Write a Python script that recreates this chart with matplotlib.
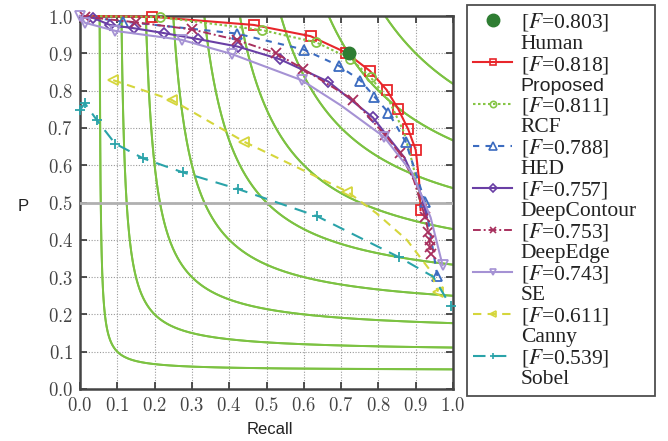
import numpy as np
import matplotlib
matplotlib.use("Agg")
import matplotlib.pyplot as plt
from matplotlib.lines import Line2D

plt.rcParams['mathtext.fontset'] = 'cm'

# ---------------- data ----------------
human_R = [0.722]
human_P = [0.902]

prop_R = [0.0, 0.192, 0.466, 0.618, 0.713, 0.777, 0.822, 0.853, 0.880, 0.900, 0.909, 0.913]
prop_P = [1.0, 0.998, 0.976, 0.946, 0.902, 0.853, 0.802, 0.751, 0.696, 0.641, 0.56, 0.48]
prop_mk = [1, 2, 3, 4, 5, 6, 7, 8, 9, 11]

rcf_R = [0.0, 0.215, 0.489, 0.634, 0.724, 0.779, 0.83, 0.868, 0.893, 0.912]
rcf_P = [1.0, 0.997, 0.962, 0.929, 0.886, 0.836, 0.77, 0.69, 0.60, 0.50]
rcf_mk = [1, 2, 3, 4, 5]

hed_R = [0.0, 0.116, 0.42, 0.60, 0.695, 0.752, 0.789, 0.827, 0.873, 0.925, 0.958]
hed_P = [1.0, 0.985, 0.953, 0.91, 0.866, 0.827, 0.784, 0.741, 0.663, 0.502, 0.303]
hed_mk = [1, 2, 3, 4, 5, 6, 7, 8, 9, 10]

dc_R = [0.0, 0.035, 0.08, 0.146, 0.226, 0.317, 0.423, 0.536, 0.666, 0.785, 0.87, 0.915, 0.93]
dc_P = [1.0, 0.995, 0.976, 0.967, 0.954, 0.938, 0.918, 0.884, 0.824, 0.728, 0.62, 0.52, 0.46]
dc_mk = [1, 2, 3, 4, 5, 6, 7, 8, 9]

de_R = [0.0, 0.013, 0.15, 0.30, 0.42, 0.525, 0.597, 0.733, 0.818, 0.858, 0.895, 0.925, 0.934, 0.937, 0.938, 0.94]
de_P = [1.0, 0.998, 0.983, 0.964, 0.936, 0.90, 0.859, 0.775, 0.681, 0.632, 0.56, 0.462, 0.422, 0.40, 0.38, 0.362]
de_mk = [1, 2, 3, 4, 5, 6, 7, 8, 9, 11, 12, 13, 14, 15]

se_R = [0.0, 0.013, 0.095, 0.273, 0.407, 0.594, 0.70, 0.815, 0.89, 0.94, 0.972]
se_P = [1.0, 0.982, 0.96, 0.936, 0.898, 0.828, 0.76, 0.676, 0.58, 0.46, 0.332]
se_mk = [0, 1, 2, 3, 4, 5, 7, 10]

canny_R = [0.089, 0.246, 0.44, 0.717, 0.795, 0.876, 0.938, 0.96]
canny_P = [0.828, 0.775, 0.663, 0.529, 0.471, 0.40, 0.319, 0.261]
canny_mk = [0, 1, 2, 3, 7]

sobel_R = [0.0, 0.013, 0.045, 0.094, 0.17, 0.275, 0.424, 0.636, 0.856, 0.947, 0.994]
sobel_P = [0.748, 0.766, 0.721, 0.658, 0.618, 0.581, 0.536, 0.463, 0.353, 0.301, 0.222]
sobel_mk = [0, 1, 2, 3, 4, 5, 6, 7, 8, 10]

iso_F = [0.1, 0.2, 0.3, 0.4, 0.5, 0.6, 0.7, 0.8, 0.9]

f_labels = ['[$F$=0.803]', '[$F$=0.818]', '[$F$=0.811]', '[$F$=0.788]', '[$F$=0.757]',
            '[$F$=0.753]', '[$F$=0.743]', '[$F$=0.611]', '[$F$=0.539]']
names = ['Human', 'Proposed', 'RCF', 'HED', 'DeepContour', 'DeepEdge', 'SE', 'Canny', 'Sobel']

ticks = [0.0, 0.1, 0.2, 0.3, 0.4, 0.5, 0.6, 0.7, 0.8, 0.9, 1.0]
tick_labels = ['$%.1f$' % t for t in ticks]

# ---------------- figure ----------------
W, H = 668, 441
fig = plt.figure(figsize=(W / 100, H / 100), dpi=100)
ax = fig.add_axes([80 / W, 1 - 389 / H, 373 / W, 373 / H])

# iso-F curves
iso_col = '#7cc242'
for F in iso_F:
    r0 = F / (2 - F)
    R = np.linspace(r0, 1.0, 400)
    P = F * R / (2 * R - F)
    ax.plot(R, P, color=iso_col, lw=1.4, zorder=2)
    ax.plot(P, R, color=iso_col, lw=1.4, zorder=2)

ax.axhline(0.5, color='#b0b0b0', lw=2.0, zorder=3)

ms = 6.5
series = [
    (prop_R, prop_P, prop_mk, dict(color='#e8262b', ls='-', marker='s', lw=1.5)),
    (rcf_R, rcf_P, rcf_mk, dict(color='#86c545', ls=(0, (1.2, 1.2)), marker='o', lw=1.5)),
    (hed_R, hed_P, hed_mk, dict(color='#3c6cc0', ls=(0, (3, 3)), marker='^', lw=1.5, ms_scale=1.15)),
    (dc_R, dc_P, dc_mk, dict(color='#6a3fa5', ls='-', marker='D', lw=1.5, ms_scale=0.85)),
    (de_R, de_P, de_mk, dict(color='#a8305e', ls=(0, (4, 1.5, 1, 1.5)), marker='x', lw=1.4)),
    (se_R, se_P, se_mk, dict(color='#a592d4', ls='-', marker='v', lw=1.5, ms_scale=1.1)),
    (canny_R, canny_P, canny_mk, dict(color='#d5d63c', ls=(0, (4, 3)), marker='<', lw=1.5, ms_scale=1.1)),
    (sobel_R, sobel_P, sobel_mk, dict(color='#2aa3a9', ls=(0, (6, 4)), marker='+', lw=1.5, ms_scale=1.1)),
]

handles = []
ax.plot(human_R, human_P, 'o', color='#2e7d32', ms=9, zorder=6, clip_on=False)
handles.append(Line2D([], [], marker='o', color='#2e7d32', ls='none', ms=9))

for R, P, mk, st in series:
    scale = st.pop('ms_scale', 1.0)
    ax.plot(R, P, color=st['color'], ls=st['ls'], lw=st['lw'], marker=st['marker'],
            markevery=mk, ms=ms * scale, mfc='none', mec=st['color'], mew=1.3,
            zorder=5, clip_on=False)
    handles.append(Line2D([], [], color=st['color'], ls=st['ls'], lw=st['lw'],
                          marker=st['marker'], ms=ms * 0.7 * scale, mfc='none',
                          mec=st['color'], mew=1.2))

ax.set_xlim(0, 1)
ax.set_ylim(0, 1)
ax.set_xticks(ticks)
ax.set_yticks(ticks)
ax.set_xticklabels(tick_labels, fontsize=13.5)
ax.set_yticklabels(tick_labels, fontsize=13.5)
ax.tick_params(direction='in', length=5, width=1.2, top=True, right=True,
               colors='#333333', labelcolor='#444444', pad=5)
ax.grid(True, ls=(0, (1, 1.5)), color='#9a9a9a', lw=0.8, zorder=1)
for s in ax.spines.values():
    s.set_color('#444444')
    s.set_linewidth(1.8)

ax.set_xlabel('Recall', fontsize=12, family='Liberation Sans', color='#222222')
ax.xaxis.set_label_coords(0.509, -0.088)
ax.set_ylabel('P', fontsize=12, family='Liberation Sans', rotation=0,
              color='#222222', va='center')
ax.yaxis.set_label_coords(-0.153, 0.488)

# legend: F label row with handle, then name row without handle
leg_handles, leg_labels = [], []
blank = Line2D([], [], color='none')
for h, fl, nm in zip(handles, f_labels, names):
    leg_handles += [h, blank]
    leg_labels += [fl, nm]

leg = fig.legend(leg_handles, leg_labels, loc='upper left', mode='expand',
                 bbox_to_anchor=(467 / W, 1 - 395 / H, 188 / W, 390 / H),
                 bbox_transform=fig.transFigure,
                 frameon=True, fancybox=False, edgecolor='#222222',
                 handlelength=1.8, handletextpad=0.4, borderpad=0.3,
                 labelspacing=0.0, borderaxespad=0,
                 prop={'family': 'Liberation Serif', 'size': 15.5})
leg.get_frame().set_linewidth(1.3)
for t in leg.get_texts():
    t.set_math_fontfamily('stix')
    t.set_color('#222222')
    if t.get_text() == 'Proposed':
        t.set_family('Liberation Sans')
        t.set_fontsize(14)

fig.savefig('out.png', dpi=100)
